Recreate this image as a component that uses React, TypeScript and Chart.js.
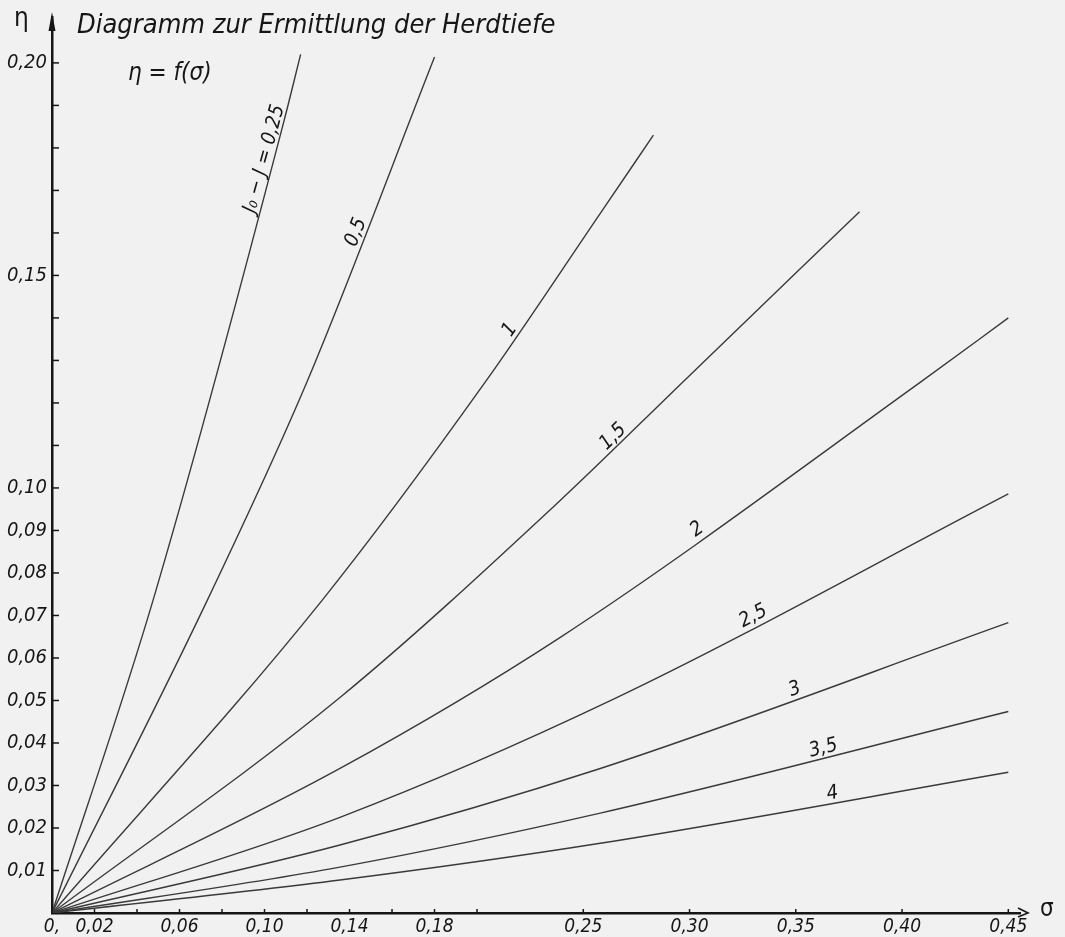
import { useEffect, useRef } from "react";
import { Chart, registerables } from "chart.js";
Chart.register(...registerables);

const W = 1065;
const H = 937;

const xTickValues = [0, 0.02, 0.04, 0.06, 0.08, 0.1, 0.12, 0.14, 0.16, 0.18, 0.2, 0.25, 0.3, 0.35, 0.4, 0.45];
const xTickLabels = ["0,", "0,02", "", "0,06", "", "0,10", "", "0,14", "", "0,18", "", "0,25", "0,30", "0,35", "0,40", "0,45"];
const yTickValues = [0.01, 0.02, 0.03, 0.04, 0.05, 0.06, 0.07, 0.08, 0.09, 0.1, 0.11, 0.12, 0.13, 0.14, 0.15, 0.16, 0.17, 0.18, 0.19, 0.2];
const yTickLabels = ["0,01", "0,02", "0,03", "0,04", "0,05", "0,06", "0,07", "0,08", "0,09", "0,10", "", "", "", "", "0,15", "", "", "", "", "0,20"];

// curves eta = f(sigma) for J0 - J = 0.25 ... 4
const sigma025 = [0, 0.0475, 0.109, 0.117];
const eta025 = [0, 0.0735, 0.186, 0.202];
const sigma05 = [0, 0.073, 0.12, 0.18];
const eta05 = [0, 0.0735, 0.125, 0.2014];
const sigma1 = [0, 0.127, 0.204, 0.258, 0.283];
const eta1 = [0, 0.0735, 0.125, 0.1646, 0.183];
const sigma15 = [0, 0.1355, 0.239, 0.297, 0.38];
const eta15 = [0, 0.0507, 0.097, 0.125, 0.165];
const sigma2 = [0, 0.1355, 0.239, 0.409, 0.45];
const eta2 = [0, 0.034, 0.0648, 0.125, 0.14];
const sigma25 = [0, 0.1355, 0.263, 0.45];
const eta25 = [0, 0.0225, 0.05, 0.0986];
const sigma3 = [0, 0.1355, 0.258, 0.45];
const eta3 = [0, 0.016, 0.034, 0.0683];
const sigma35 = [0, 0.1355, 0.258, 0.45];
const eta35 = [0, 0.0108, 0.0235, 0.0474];
const sigma4 = [0, 0.1355, 0.258, 0.45];
const eta4 = [0, 0.00775, 0.0164, 0.0331];

const curveLabels = ["J₀ − J = 0,25", "0,5", "1", "1,5", "2", "2,5", "3", "3,5", "4"];
const curveSigmas = [sigma025, sigma05, sigma1, sigma15, sigma2, sigma25, sigma3, sigma35, sigma4];
const curveEtas = [eta025, eta05, eta1, eta15, eta2, eta25, eta3, eta35, eta4];
const labelSigma = [0.104, 0.147, 0.219, 0.267, 0.306, 0.332, 0.351, 0.364, 0.368];

const FONT = "'DejaVu Sans Condensed', 'Liberation Sans Narrow', 'DejaVu Sans', sans-serif";
const INK = "#161616";
const LINE = "#3a3a3a";
const PAPER = "#f1f1f1";

const paperPlugin = {
  id: "paper",
  beforeDraw(chart: any) {
    const { ctx } = chart;
    ctx.save();
    ctx.fillStyle = PAPER;
    ctx.fillRect(0, 0, chart.width, chart.height);
    ctx.restore();
  },
};

const decorPlugin = {
  id: "decor",
  afterDraw(chart: any) {
    const { ctx, chartArea } = chart;
    const xs = chart.scales.x;
    const ys = chart.scales.y;
    ctx.save();
    ctx.strokeStyle = INK;
    ctx.lineWidth = 1.5;
    yTickValues.forEach((v) => {
      const py = ys.getPixelForValue(v);
      ctx.beginPath();
      ctx.moveTo(chartArea.left, py);
      ctx.lineTo(chartArea.left + 7, py);
      ctx.stroke();
    });
    xTickValues.forEach((v) => {
      const px = xs.getPixelForValue(v);
      ctx.beginPath();
      ctx.moveTo(px, chartArea.bottom);
      ctx.lineTo(px, chartArea.bottom - 4);
      ctx.stroke();
    });
    ctx.fillStyle = INK;
    const ax = chartArea.left;
    ctx.beginPath();
    ctx.moveTo(ax, chartArea.top - 5);
    ctx.lineTo(ax - 3.5, chartArea.top + 14);
    ctx.lineTo(ax + 3.5, chartArea.top + 14);
    ctx.closePath();
    ctx.fill();
    const ay = chartArea.bottom;
    ctx.lineWidth = 1.6;
    ctx.beginPath();
    ctx.moveTo(chartArea.right - 2, ay - 5);
    ctx.lineTo(chartArea.right + 8, ay);
    ctx.lineTo(chartArea.right - 2, ay + 4);
    ctx.stroke();

    ctx.fillStyle = INK;
    ctx.font = `italic 20px ${FONT}`;
    ctx.textAlign = "center";
    ctx.textBaseline = "bottom";
    chart.data.datasets.forEach((ds: any, i: number) => {
      const d = ds.data;
      const s = labelSigma[i];
      let k = 1;
      while (k < d.length - 1 && d[k].x < s) k++;
      const p0 = d[k - 1];
      const p1 = d[k];
      const t = (s - p0.x) / (p1.x - p0.x);
      const e = p0.y + t * (p1.y - p0.y);
      const px = xs.getPixelForValue(s);
      const py = ys.getPixelForValue(e);
      const ang = Math.atan2(
        ys.getPixelForValue(p1.y) - ys.getPixelForValue(p0.y),
        xs.getPixelForValue(p1.x) - xs.getPixelForValue(p0.x)
      );
      ctx.save();
      ctx.translate(px, py);
      ctx.rotate(ang);
      ctx.fillText(curveLabels[i], 0, 1);
      ctx.restore();
    });
    ctx.restore();
  },
};

export default function App() {
  const ref = useRef<HTMLCanvasElement | null>(null);
  useEffect(() => {
    if (!ref.current) return;
    const datasets = curveLabels.map((lbl, i) => ({
      label: lbl,
      data: curveSigmas[i].map((s, j) => ({ x: s, y: curveEtas[i][j] })),
      showLine: true,
      borderColor: LINE,
      borderWidth: 1.4,
      pointRadius: 0,
      cubicInterpolationMode: "monotone" as const,
      fill: false,
    }));
    const chart = new Chart(ref.current, {
      type: "scatter",
      data: { datasets },
      plugins: [paperPlugin, decorPlugin],
      options: {
        animation: false,
        responsive: false,
        maintainAspectRatio: false,
        layout: { padding: { top: 15, right: 45, left: 0, bottom: 0 } },
        plugins: { legend: { display: false }, tooltip: { enabled: false }, title: { display: false } },
        scales: {
          x: {
            type: "linear",
            min: 0,
            max: 0.4555,
            afterBuildTicks: (scale: any) => {
              scale.ticks = xTickValues.map((v) => ({ value: v }));
            },
            afterFit: (scale: any) => {
              scale.height = 24;
            },
            ticks: {
              autoSkip: false,
              maxRotation: 0,
              padding: 3,
              color: INK,
              font: { family: FONT, size: 19, style: "italic" },
              callback: (_v: any, i: number) => xTickLabels[i],
            },
            grid: { display: true, drawOnChartArea: false, drawTicks: false },
            border: { display: true, color: INK, width: 2.5 },
          },
          y: {
            type: "linear",
            min: 0,
            max: 0.2108,
            afterBuildTicks: (scale: any) => {
              scale.ticks = yTickValues.map((v) => ({ value: v }));
            },
            afterFit: (scale: any) => {
              scale.width = 52;
            },
            ticks: {
              autoSkip: false,
              padding: 5,
              color: INK,
              font: { family: FONT, size: 20, style: "italic" },
              callback: (_v: any, i: number) => yTickLabels[i],
            },
            grid: { display: true, drawOnChartArea: false, drawTicks: false },
            border: { display: true, color: INK, width: 2.5 },
          },
        },
      },
    });
    return () => chart.destroy();
  }, []);

  const txt = { position: "absolute" as const, fontFamily: FONT, fontStyle: "italic", color: INK, whiteSpace: "nowrap" as const, lineHeight: 1 };
  return (
    <div style={{ position: "absolute", left: 0, top: 0, width: W, height: H, background: PAPER, overflow: "hidden" }}>
      <canvas ref={ref} width={W} height={H} style={{ display: "block", width: W, height: H }} />
      <div style={{ ...txt, left: 77, top: 10, fontSize: 27 }}>Diagramm zur Ermittlung der Herdtiefe</div>
      <div style={{ ...txt, left: 128, top: 60, fontSize: 24 }}>η = f(σ)</div>
      <div style={{ ...txt, left: 14, top: 4, fontSize: 26, fontStyle: "normal" }}>η</div>
      <div style={{ ...txt, left: 1040, top: 896, fontSize: 24, fontStyle: "normal" }}>σ</div>
    </div>
  );
}
